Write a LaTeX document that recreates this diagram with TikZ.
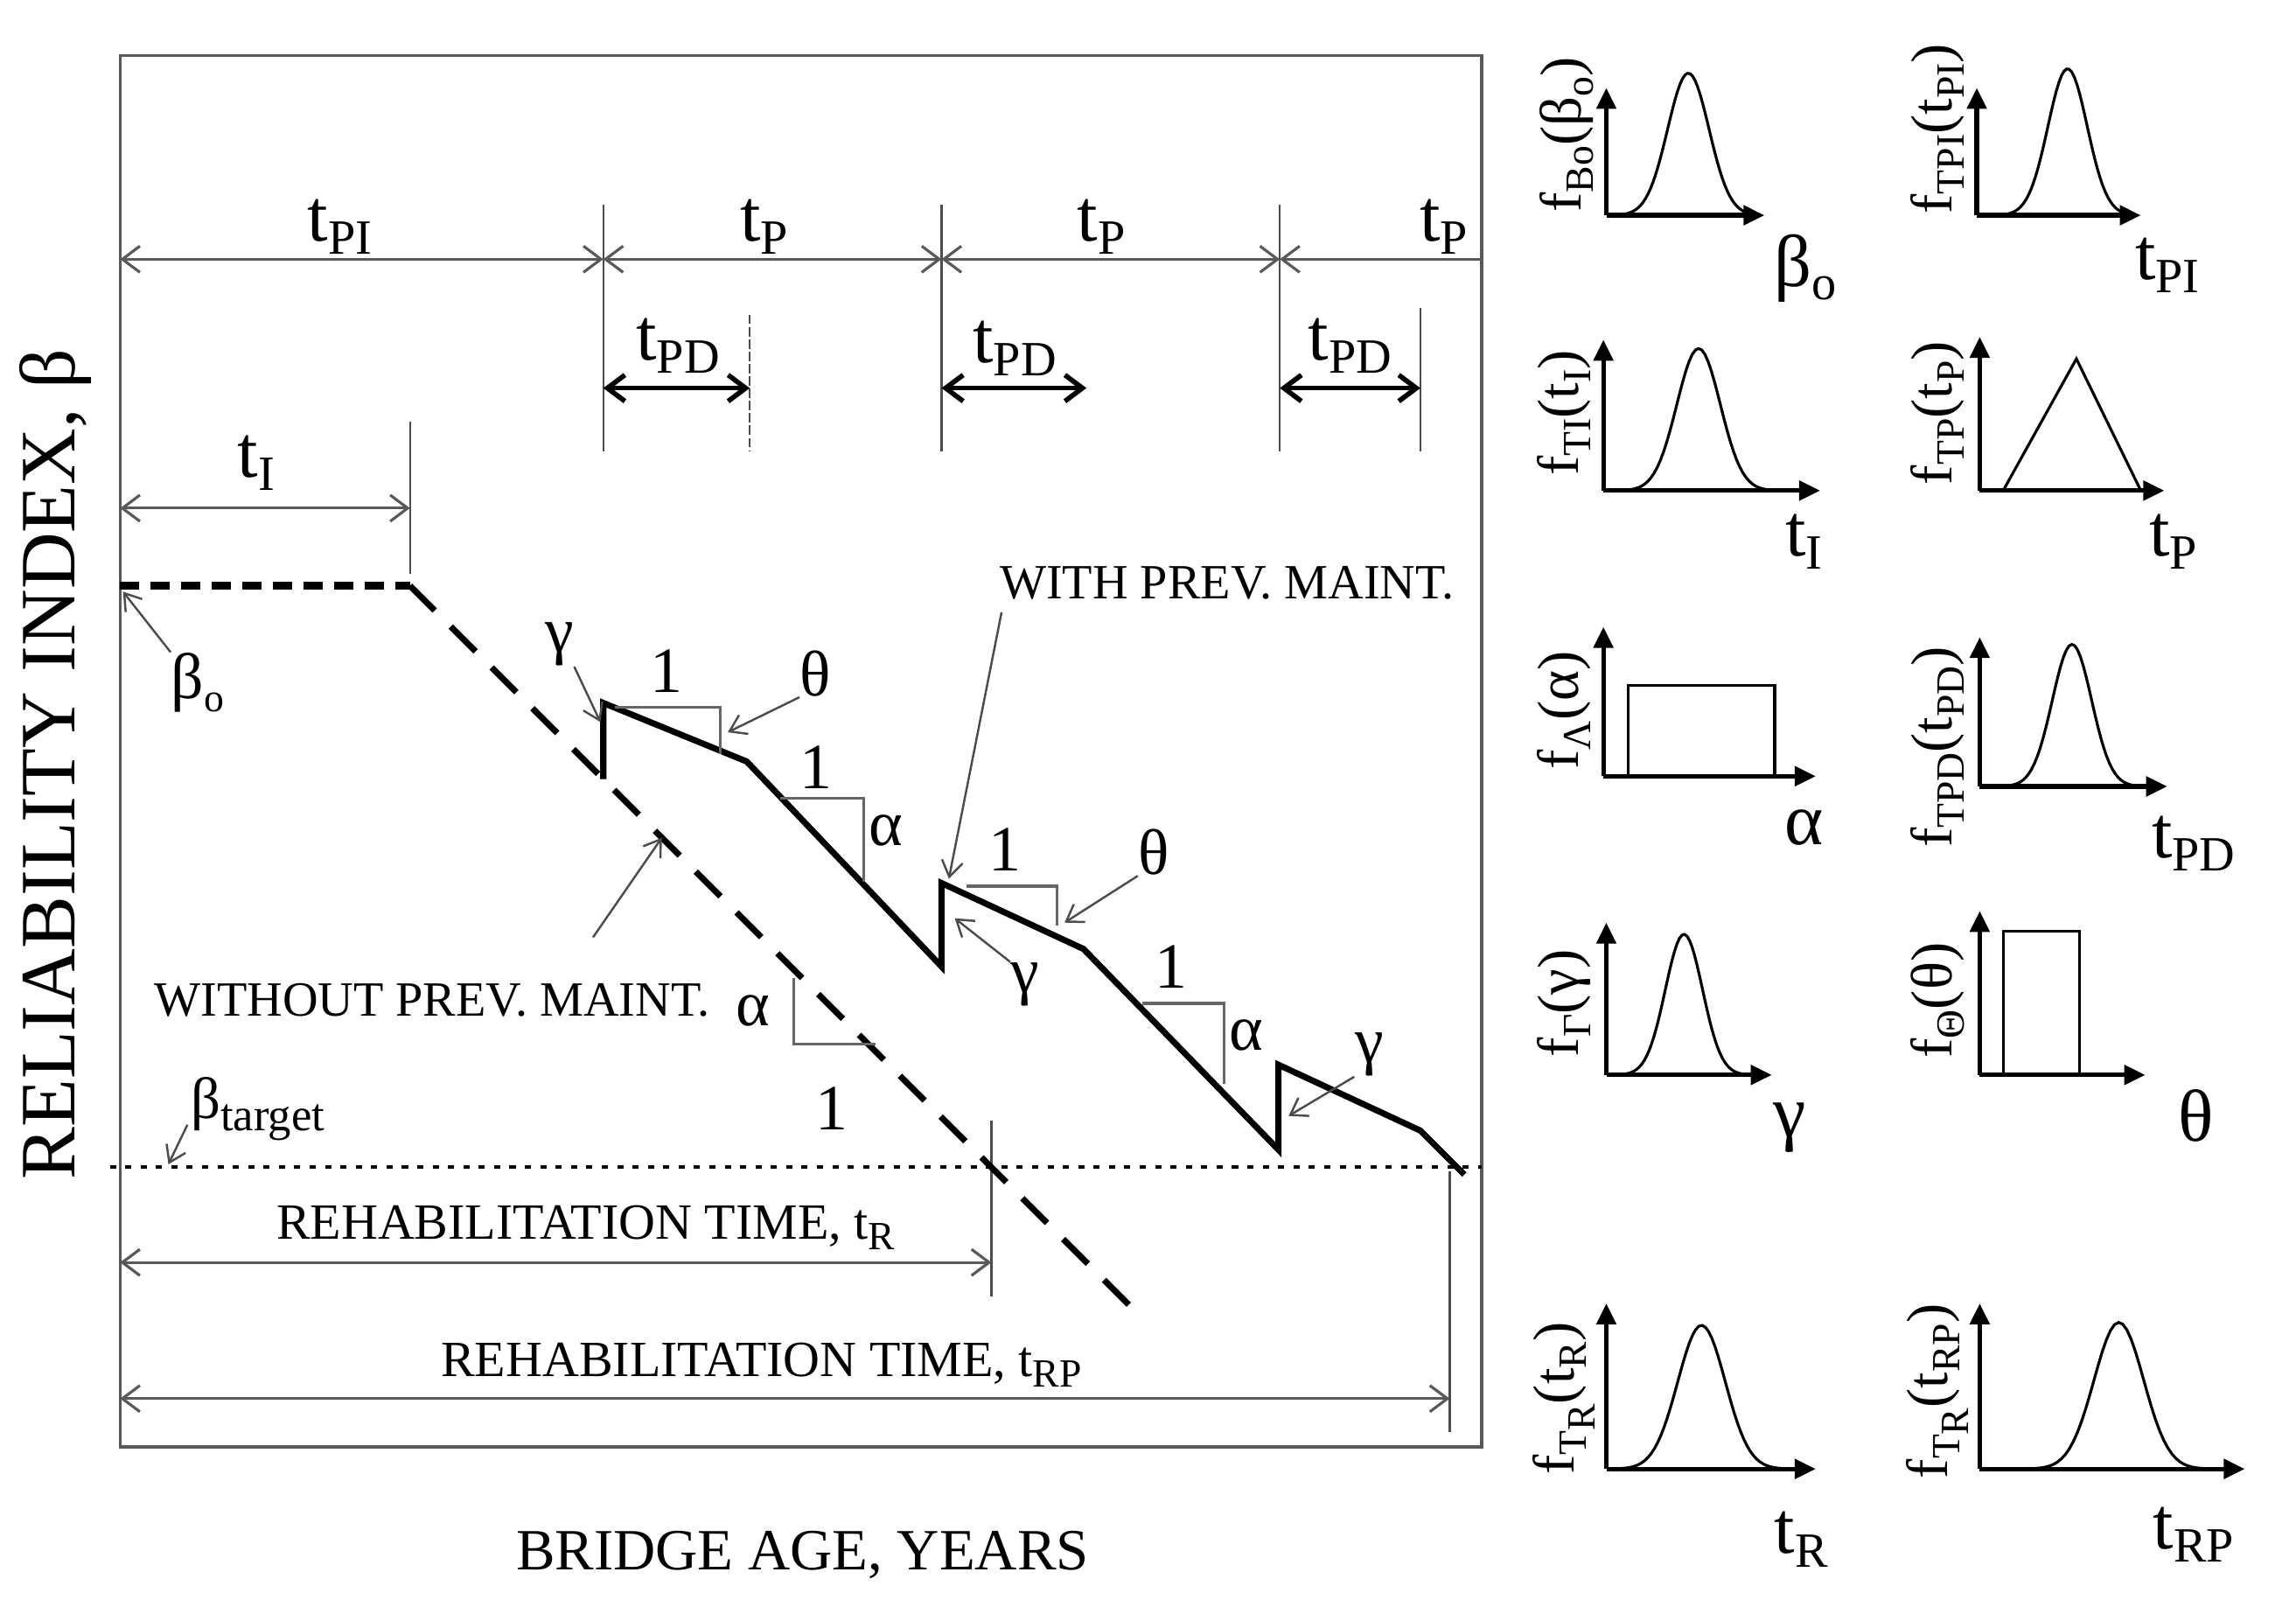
\documentclass[tikz,border=0pt]{standalone}
\usepackage{fontspec}
\setmainfont{Liberation Serif}
\usetikzlibrary{arrows.meta}
\newcommand{\sbx}[1]{\raisebox{-0.45ex}{\fontsize{13}{13}\selectfont #1}}
\newcommand{\sbl}[1]{\raisebox{-0.4ex}{\fontsize{16}{16}\selectfont #1}}
\newcommand{\bump}[6]{\draw[dens] plot[domain=#1:#2, samples=60] (\x,{#3-#6*exp(-((\x-#4)/#5)^2)});}
\begin{document}
\begin{tikzpicture}[x=0.1674mm, y=-0.1674mm,
  frame/.style={black!65, line width=1pt},
  dim/.style={black!65, line width=0.9pt, arrows={Straight Barb[length=2mm,width=3mm]-Straight Barb[length=2mm,width=3mm]}},
  dimb/.style={black, line width=1.6pt, arrows={Straight Barb[length=2mm,width=3mm]-Straight Barb[length=2mm,width=3mm]}},
  tick/.style={black!70, line width=0.7pt},
  lead/.style={black!70, line width=0.7pt, -{Straight Barb[length=1.8mm,width=2.4mm]}},
  box/.style={black!60, line width=1pt},
  curve/.style={line width=2pt, line join=miter},
  txt/.style={font=\fontsize{16}{16}\selectfont, inner sep=0pt},
  big/.style={font=\fontsize{21}{21}\selectfont, inner sep=0pt},
  tl/.style={font=\fontsize{24}{24}\selectfont, inner sep=0pt},
  ax/.style={line width=1.5pt, -{Triangle[length=2.4mm,width=2.2mm]}},
  dens/.style={line width=0.9pt},
  fl/.style={font=\fontsize{19}{19}\selectfont, rotate=90, inner sep=0pt}]
\useasboundingbox (0,0) rectangle (1568,1097);

% frame and axis titles
\draw[frame] (82,38) rectangle (1012,988);
\node[rotate=90, font=\fontsize{25.5}{25.5}\selectfont] (yttl) at (38,522) {RELIABILITY INDEX, β};
\node[font=\fontsize{19}{19}\selectfont] (xttl) at (548,1062) {BRIDGE AGE, YEARS};

% key points
\coordinate (o) at (82,177);
\coordinate (c1) at (412,177);
\coordinate (c2) at (643,177);
\coordinate (c3) at (874,177);
\coordinate (c4) at (1012,177);
\coordinate (b0s) at (82,400);
\coordinate (b0e) at (280,400);
\coordinate (dend) at (772,892);
\coordinate (p1) at (412,532);
\coordinate (p2) at (412,480);
\coordinate (p3) at (510,520);
\coordinate (p4) at (643,660);
\coordinate (p5) at (643,603);
\coordinate (p6) at (740,648);
\coordinate (p7) at (873,785);
\coordinate (p8) at (873,727);
\coordinate (p9) at (970,772);
\coordinate (p10) at (1000,802);

% vertical ticks
\draw[tick] (412,140) -- (412,308);
\draw[tick] (643,140) -- (643,308);
\draw[tick] (874,140) -- (874,308);
\draw[tick, dash pattern=on 3pt off 1pt] (512,215) -- (512,308);
\draw[tick] (970,210) -- (970,308);
\draw[tick] (280,288) -- (280,392);
\draw[tick] (677,765) -- (677,885);
\draw[tick] (990,800) -- (990,978);

% tPI / tP row
\draw[dim] (o) -- (c1);
\draw[dim] (c1) -- (c2);
\draw[dim] (c2) -- (c3);
\draw[dim, arrows={Straight Barb[length=2mm,width=3mm]-}] (c3) -- (c4);
\node[tl] (tpi) at (232,155) {t\sbl{PI}};
\node[tl] (tp1) at (522,155) {t\sbl{P}};
\node[tl] (tp2) at (752,155) {t\sbl{P}};
\node[tl] (tp3) at (986,155) {t\sbl{P}};

% tPD row
\draw[dimb] (412,265) -- (512,265);
\draw[dimb] (643,265) -- (742,265);
\draw[dimb] (874,265) -- (970,265);
\node[tl] (tpd1) at (463,236) {t\sbl{PD}};
\node[tl] (tpd2) at (693,238) {t\sbl{PD}};
\node[tl] (tpd3) at (922,236) {t\sbl{PD}};

% tI
\draw[dim] (82,347) -- (280,347);
\node[tl] (ti) at (175,316) {t\sbl{I}};

% without preventive maintenance
\draw[line width=2.6pt, dash pattern=on 2.2mm off 1.3mm] (b0s) -- (b0e);
\draw[line width=2pt, dash pattern=on 4mm off 2.6mm] (b0e) -- (dend);

% with preventive maintenance
\draw[curve] (p1) -- (p2) -- (p3) -- (p4) -- (p5) -- (p6) -- (p7) -- (p8) -- (p9) -- (p10);

% slope boxes
\draw[box] (420,483) -- (492,483) -- (492,515);
\draw[box] (533,545) -- (590,545) -- (590,602);
\draw[box] (542,668) -- (542,713) -- (598,713);
\draw[box] (660,605) -- (722,605) -- (722,632);
\draw[box] (780,685) -- (836,685) -- (836,740);
\node[big] (one1) at (455,458) {1};
\node[big] (one2) at (557,524) {1};
\node[big] (one3) at (568,757) {1};
\node[big] (one4) at (686,580) {1};
\node[big] (one5) at (800,660) {1};
\node[big] (al1) at (605,567) {α};
\node[big] (al2) at (514,690) {α};
\node[big] (al3) at (851,707) {α};
\node[big] (th1) at (557,460) {θ};
\node[big] (th2) at (788,582) {θ};
\node[big] (ga1) at (382,440) {γ};
\node[big] (ga2) at (700,672) {γ};
\node[big] (ga3) at (935,720) {γ};
\draw[lead] (ga1.south east) -- (410,493);
\draw[lead] (ga2.north west) -- (652,627);
\draw[lead] (ga3.south west) -- (880,762);
\draw[lead] (th1.south west) -- (497,500);
\draw[lead] (th2.south west) -- (727,630);

% curve labels
\node[txt] (wo) at (295,683) {WITHOUT PREV. MAINT.};
\node[txt] (wi) at (838,398) {WITH PREV. MAINT.};
\draw[lead] (405,640) -- (452,572);
\draw[lead] (684,418) -- (648,600);

% reliability levels
\node[big] (b0) at (135,466) {β\sbx{o}};
\draw[lead] (b0.north west) -- (84,404);
\draw[line width=1.2pt, dash pattern=on 2pt off 3pt] (75,797) -- (1012,797);
\node[font=\fontsize{19}{19}\selectfont, inner sep=0pt] (bt) at (176,757) {β\raisebox{-0.45ex}{\fontsize{15}{15}\selectfont target}};
\draw[lead] (128,768) -- (115,795);

% rehabilitation times
\draw[dim] (82,862) -- (677,862);
\node[font=\fontsize{16.5}{16.5}\selectfont, inner sep=0pt] (tr) at (400,838) {REHABILITATION TIME, t\sbx{R}};
\draw[dim] (82,955) -- (990,955);
\node[font=\fontsize{16.5}{16.5}\selectfont, inner sep=0pt] (trp) at (520,932) {REHABILITATION TIME, t\sbx{RP}};

% density plots, row 1
\draw[ax] (1097,147) -- (1097,60);
\draw[ax] (1097,147) -- (1205,147);
\bump{1100}{1200}{147}{1153}{20}{97}
\node[fl] (f1) at (1070,92) {f\sbx{Bo}(β\sbx{o})};
\node[tl] (x1) at (1233,183) {β\sbl{o}};
\draw[ax] (1350,147) -- (1350,60);
\draw[ax] (1350,147) -- (1462,147);
\bump{1352}{1455}{147}{1412}{19}{100}
\node[fl] (f2) at (1323,88) {f\sbx{TPI}(t\sbx{PI})};
\node[tl] (x2) at (1480,181) {t\sbl{PI}};

% row 2
\draw[ax] (1095,335) -- (1095,232);
\draw[ax] (1095,335) -- (1243,335);
\bump{1097}{1225}{335}{1160}{21}{97}
\node[fl] (f3) at (1068,282) {f\sbx{TI}(t\sbx{I})};
\node[tl] (x3) at (1232,370) {t\sbl{I}};
\draw[ax] (1352,335) -- (1352,230);
\draw[ax] (1352,335) -- (1478,335);
\draw[dens] (1368,335) -- (1418,245) -- (1462,335);
\node[fl] (f4) at (1323,282) {f\sbx{TP}(t\sbx{P})};
\node[tl] (x4) at (1484,370) {t\sbl{P}};

% row 3
\draw[ax] (1095,530) -- (1095,428);
\draw[ax] (1095,530) -- (1240,530);
\draw[dens] (1112,530) -- (1112,468) -- (1212,468) -- (1212,530);
\node[fl] (f5) at (1068,485) {f\sbx{Λ}(α)};
\node[tl] (x5) at (1232,565) {α};
\draw[ax] (1352,537) -- (1352,435);
\draw[ax] (1352,537) -- (1480,537);
\bump{1354}{1470}{537}{1415}{19}{97}
\node[fl] (f6) at (1323,510) {f\sbx{TPD}(t\sbx{PD})};
\node[tl] (x6) at (1498,576) {t\sbl{PD}};

% row 4
\draw[ax] (1097,734) -- (1097,630);
\draw[ax] (1097,734) -- (1210,734);
\bump{1099}{1200}{734}{1150}{18}{96}
\node[fl] (f7) at (1068,685) {f\sbx{Γ}(γ)};
\node[tl] (x7) at (1222,770) {γ};
\draw[ax] (1352,734) -- (1352,622);
\draw[ax] (1352,734) -- (1465,734);
\draw[dens] (1368,734) -- (1368,636) -- (1420,636) -- (1420,734);
\node[fl] (f8) at (1323,683) {f\sbx{Θ}(θ)};
\node[tl] (x8) at (1500,762) {θ};

% row 5
\draw[ax] (1097,1003) -- (1097,890);
\draw[ax] (1097,1003) -- (1240,1003);
\bump{1099}{1228}{1003}{1162}{23}{98}
\node[fl] (f9) at (1068,955) {f\sbx{T\sbx{R}}(t\sbx{R})};
\node[tl] (x9) at (1230,1051) {t\sbl{R}};
\draw[ax] (1352,1003) -- (1352,890);
\draw[ax] (1352,1003) -- (1533,1003);
\bump{1354}{1520}{1003}{1447}{24}{100}
\node[fl] (f10) at (1323,950) {f\sbx{T\sbx{R}}(t\sbx{RP})};
\node[tl] (x10) at (1498,1048) {t\sbl{RP}};
\end{tikzpicture}
\end{document}
